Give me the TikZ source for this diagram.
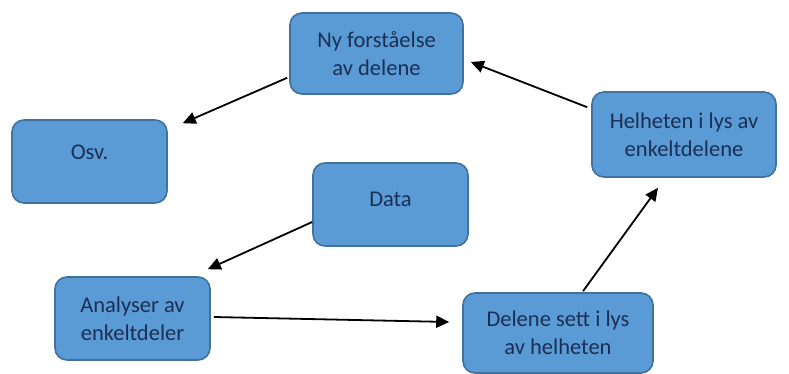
\documentclass[tikz,border=0pt]{standalone}
\usepackage{fontspec}
\setmainfont{Carlito}
\usetikzlibrary{calc,positioning,arrows.meta}
\definecolor{boxfill}{HTML}{5B9BD5}
\definecolor{boxline}{HTML}{41719C}
\definecolor{boxtext}{HTML}{1A2F55}
\tikzset{
  box/.style={draw=boxline,line width=1.6pt,fill=boxfill,rounded corners=12pt,
    text=boxtext,align=center,font=\fontsize{22.5}{28}\selectfont,inner sep=0pt},
  arr/.style={-{Triangle[length=13pt,width=12pt]},line width=1.8pt}
}
\begin{document}
\begin{tikzpicture}[x=1pt,y=-1pt]
  \useasboundingbox (0,0) rectangle (789,374);

  % Boxes
  \node[box,minimum width=173,minimum height=81] (ny) at (376.5,53.5) {Ny forståelse\\av delene};
  \node[box,minimum width=155,minimum height=83,text height=14pt,text depth=17pt] (osv) at (89.5,161.5) {Osv.};
  \node[box,minimum width=155,minimum height=83,text height=14pt,text depth=11pt] (data) at (390.5,204.5) {Data};
  \node[box,minimum width=155,minimum height=83] (analyser) at (132.5,318.5) {Analyser av\\enkeltdeler};
  \node[box,minimum width=190,minimum height=80] (delene) at (558,333) {Delene sett i lys\\av helheten};
  \node[box,minimum width=184,minimum height=85] (helheten) at (684,134.5) {Helheten i lys av\\enkeltdelene};

  % Arrows
  \draw[arr] ($(helheten.north west)+(-4,16)$) -- ($(ny.east)+(7,8.5)$);
  \draw[arr] ($(ny.south west)+(-2,-17)$) -- ($(osv.north east)+(15,4)$);
  \draw[arr] ($(data.west)+(0,17.5)$) -- ($(analyser.north east)+(-3,-7)$);
  \draw[arr] ($(analyser.east)+(3,-1.5)$) -- ($(delene.west)+(-13,-11)$);
  \draw[arr] ($(delene.north)+(25,-1)$) -- ($(helheten.south)+(-26,10)$);

\end{tikzpicture}
\end{document}
